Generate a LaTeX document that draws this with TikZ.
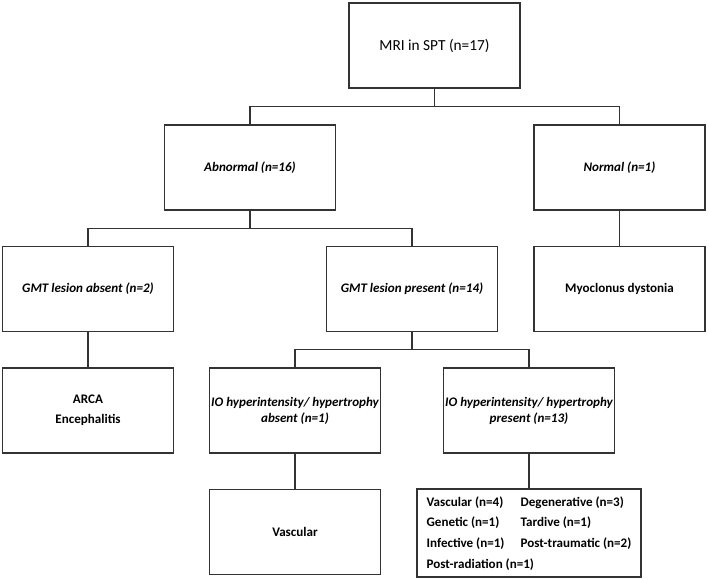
\documentclass[tikz,border=0pt]{standalone}
\usepackage{fontspec}
\setmainfont{Carlito}
\usetikzlibrary{calc}

\begin{document}
\begin{tikzpicture}[x=0.75pt, y=-0.75pt,
    box/.style={draw=black!80, line width=1.1pt, minimum width=128pt,
        minimum height=64pt, inner sep=1pt, align=center,
        font=\fontsize{9.8}{12}\selectfont\bfseries},
    link/.style={draw=black!80, line width=1.1pt}]

    % Fix the frame to the size of the page
    \useasboundingbox (0,0) rectangle (709,580);

    % Rows of the tree (centres in pixels)
    \def\rowA{45.5}
    \def\rowB{167.5}
    \def\rowC{289}
    \def\rowD{410.5}
    \def\rowE{532}

    % Boxes
    \node[box, font=\fontsize{11.5}{14}\selectfont] (mri) at (434.5,\rowA) {MRI in SPT (n=17)};
    \node[box] (abnormal) at (250,\rowB) {\itshape Abnormal (n=16)};
    \node[box] (normal) at (619.5,\rowB) {\itshape Normal (n=1)};
    \node[box] (gmtabs) at (88,\rowC) {\itshape GMT lesion absent (n=2)};
    \node[box] (gmtpres) at (412,\rowC) {\itshape GMT lesion present (n=14)};
    \node[box] (myoclonus) at (619.5,\rowC) {Myoclonus dystonia};
    \node[box] (arca) at (88,\rowD) {ARCA\\[3pt]Encephalitis};
    \node[box] (ioabs) at (295,\rowD) {\itshape IO hyperintensity/ hypertrophy\\\itshape absent (n=1)};
    \node[box] (iopres) at (529,\rowD) {\itshape IO hyperintensity/ hypertrophy\\\itshape present (n=13)};
    \node[box] (vascular) at (295,\rowE) {Vascular};
    \node[box, minimum width=168pt, minimum height=66pt, inner sep=0pt,
        font=\fontsize{9.8}{11.8}\selectfont\bfseries] (causes) at (529,533) {%
        \def\arraystretch{1.31}%
        \begin{tabular}{@{}p{70.5pt}@{}l@{}}
            Vascular (n=4) & Degenerative (n=3)\\
            Genetic (n=1) & Tardive (n=1)\\
            Infective (n=1) & Post-traumatic (n=2)\\
            \multicolumn{2}{@{}l@{}}{Post-radiation (n=1)}
        \end{tabular}};

    % Branching connectors: stem, then a bus half way down
    \foreach \parent/\left/\right in {mri/abnormal/normal, abnormal/gmtabs/gmtpres, gmtpres/ioabs/iopres}{
        \coordinate (bus) at ($(\parent.south)!0.5!(\parent.south |- \left.north)$);
        \draw[link] (\parent.south) -- (bus);
        \draw[link] (\left.north) |- (bus) -| (\right.north);
    }

    % Single connectors
    \draw[link] (normal) -- (myoclonus);
    \draw[link] (gmtabs) -- (arca);
    \draw[link] (ioabs) -- (vascular);
    \draw[link] (iopres) -- (causes);

\end{tikzpicture}
\end{document}
